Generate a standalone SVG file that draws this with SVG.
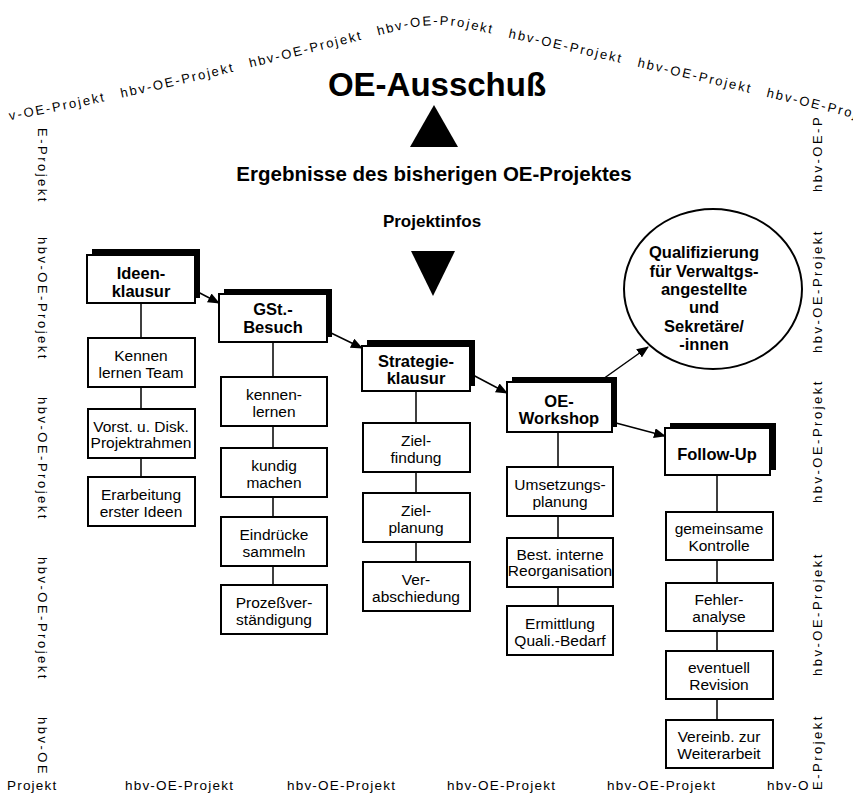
<svg xmlns="http://www.w3.org/2000/svg" width="853" height="794" viewBox="0 0 853 794">
<style>
text{font-family:"Liberation Sans",Arial,sans-serif;fill:#000}
.deco{font-size:13px;letter-spacing:2px;word-spacing:2px}
.side{font-size:13px;letter-spacing:2.5px}
.bot{font-size:13.5px;letter-spacing:1.2px}
.hb{font-size:16.5px;font-weight:bold;text-anchor:middle}
.t{font-size:15.5px;text-anchor:middle}
.box{fill:#fff;stroke:#000;stroke-width:2}
.sh{fill:#000}
.ln{stroke:#000;stroke-width:1.5;fill:none}
.ar{stroke:#000;stroke-width:1.5;fill:none;marker-end:url(#ah)}
</style>
<defs>
<marker id="ah" markerUnits="userSpaceOnUse" markerWidth="12" markerHeight="10" refX="11" refY="5" orient="auto">
<path d="M0,0 L12,5 L0,10 z" fill="#000"/>
</marker>
<path id="roof" d="M0,122 C150,95 300,55 400,30 Q437,20 475,30 C600,58 750,92 870,122"/>
</defs>
<rect width="853" height="794" fill="#fff"/>

<g id="border">
<text class="deco"><textPath href="#roof" startOffset="10">v-OE-Projekt&#160;&#160;hbv-OE-Projekt&#160;&#160;hbv-OE-Projekt&#160;&#160;hbv-OE-Projekt&#160;&#160;hbv-OE-Projekt&#160;&#160;hbv-OE-Projekt&#160;&#160;hbv-OE-Projekt&#160;&#160;hbv-OE-Projekt</textPath></text>
<g transform="translate(38,0) rotate(90)">
<text class="side" x="128" y="0">E-Projekt</text>
<text class="side" x="237" y="0">hbv-OE-Projekt</text>
<text class="side" x="397" y="0">hbv-OE-Projekt</text>
<text class="side" x="557" y="0">hbv-OE-Projekt</text>
<text class="side" x="717" y="0">hbv-OE</text>
</g>
<g transform="translate(822,0) rotate(-90)">
<text class="side" x="-192" y="0">hbv-OE-P</text>
<text class="side" x="-353" y="0">hbv-OE-Projekt</text>
<text class="side" x="-503" y="0">hbv-OE-Projekt</text>
<text class="side" x="-676" y="0">hbv-OE-Projekt</text>
<text class="side" x="-790" y="0">E-Projekt</text>
</g>
<text class="bot" x="7" y="790">Projekt</text>
<text class="bot" x="125" y="790">hbv-OE-Projekt</text>
<text class="bot" x="287" y="790">hbv-OE-Projekt</text>
<text class="bot" x="447" y="790">hbv-OE-Projekt</text>
<text class="bot" x="607" y="790">hbv-OE-Projekt</text>
<text class="bot" x="767" y="790">hbv-O</text>
</g>

<g id="head">
<text x="437" y="96" font-size="33" font-weight="bold" text-anchor="middle">OE-Ausschuß</text>
<polygon points="434,105 410,147 458,147" fill="#000"/>
<text x="434" y="181" font-size="20.5" font-weight="bold" text-anchor="middle">Ergebnisse des bisherigen OE-Projektes</text>
<text x="432" y="227" font-size="17" font-weight="bold" text-anchor="middle">Projektinfos</text>
<polygon points="411,251 455,251 433,296" fill="#000"/>
</g>

<g id="connectors">
<line class="ar" x1="196" y1="291" x2="219" y2="303"/>
<line class="ar" x1="329" y1="332" x2="362" y2="348"/>
<line class="ar" x1="471" y1="374" x2="507" y2="393"/>
<line class="ar" x1="603" y1="379" x2="648" y2="347"/>
<line class="ar" x1="616" y1="423" x2="665" y2="436"/>
<path class="ln" d="M141,303V338M141,387V409M141,458V477"/>
<path class="ln" d="M273,342V377M273,426V448M273,497V517M273,566V585"/>
<path class="ln" d="M416,391V423M416,472V493M416,542V562"/>
<path class="ln" d="M558,432V467M558,516V538M558,587V606"/>
<path class="ln" d="M717,475V512M717,560V583M717,631V651M717,699V720"/>
</g>

<g id="ideen">
<rect class="sh" x="92" y="249" width="108" height="49"/>
<rect class="box" x="87" y="255" width="108" height="48"/>
<text class="hb" x="141" y="279">Ideen-</text>
<text class="hb" x="141" y="297">klausur</text>
</g>
<g id="ideen1"><rect class="box" x="88" y="338" width="107" height="49"/><text class="t" x="141" y="361">Kennen</text><text class="t" x="141" y="378">lernen Team</text></g>
<g id="ideen2"><rect class="box" x="88" y="409" width="107" height="49"/><text class="t" x="141" y="432">Vorst. u. Disk.</text><text class="t" x="141" y="448">Projektrahmen</text></g>
<g id="ideen3"><rect class="box" x="88" y="477" width="107" height="49"/><text class="t" x="141" y="500">Erarbeitung</text><text class="t" x="141" y="517">erster Ideen</text></g>

<g id="gst">
<rect class="sh" x="224" y="289" width="108" height="48"/>
<rect class="box" x="219" y="294" width="108" height="48"/>
<text class="hb" x="273" y="315">GSt.-</text>
<text class="hb" x="273" y="333">Besuch</text>
</g>
<g id="gst1"><rect class="box" x="221" y="377" width="106" height="49"/><text class="t" x="274" y="400">kennen-</text><text class="t" x="274" y="417">lernen</text></g>
<g id="gst2"><rect class="box" x="221" y="448" width="106" height="49"/><text class="t" x="274" y="471">kundig</text><text class="t" x="274" y="488">machen</text></g>
<g id="gst3"><rect class="box" x="221" y="517" width="106" height="49"/><text class="t" x="274" y="540">Eindrücke</text><text class="t" x="274" y="557">sammeln</text></g>
<g id="gst4"><rect class="box" x="221" y="585" width="106" height="49"/><text class="t" x="274" y="608">Prozeßver-</text><text class="t" x="274" y="625">ständigung</text></g>

<g id="strategie">
<rect class="sh" x="367" y="340" width="108" height="46"/>
<rect class="box" x="362" y="346" width="108" height="45"/>
<text class="hb" x="416" y="367">Strategie-</text>
<text class="hb" x="416" y="384">klausur</text>
</g>
<g id="str1"><rect class="box" x="363" y="423" width="107" height="49"/><text class="t" x="416" y="446">Ziel-</text><text class="t" x="416" y="463">findung</text></g>
<g id="str2"><rect class="box" x="363" y="493" width="107" height="49"/><text class="t" x="416" y="516">Ziel-</text><text class="t" x="416" y="533">planung</text></g>
<g id="str3"><rect class="box" x="363" y="562" width="107" height="49"/><text class="t" x="416" y="585">Ver-</text><text class="t" x="416" y="602">abschiedung</text></g>

<g id="workshop">
<rect class="sh" x="512" y="377" width="105" height="50"/>
<rect class="box" x="507" y="382" width="105" height="50"/>
<text class="hb" x="559" y="407">OE-</text>
<text class="hb" x="559" y="424">Workshop</text>
</g>
<g id="ws1"><rect class="box" x="507" y="467" width="106" height="49"/><text class="t" x="560" y="490">Umsetzungs-</text><text class="t" x="560" y="507">planung</text></g>
<g id="ws2"><rect class="box" x="507" y="538" width="106" height="49"/><text class="t" x="560" y="560" font-size="13">Best. interne</text><text class="t" x="560" y="576" font-size="13">Reorganisation</text></g>
<g id="ws3"><rect class="box" x="507" y="606" width="106" height="49"/><text class="t" x="560" y="629">Ermittlung</text><text class="t" x="560" y="646">Quali.-Bedarf</text></g>

<g id="quali">
<ellipse cx="713" cy="289" rx="89" ry="80" fill="#fff" stroke="#000" stroke-width="2"/>
<text class="hb" x="704" y="258">Qualifizierung</text>
<text class="hb" x="704" y="277">für Verwaltgs-</text>
<text class="hb" x="704" y="295">angestellte</text>
<text class="hb" x="704" y="313">und</text>
<text class="hb" x="704" y="332">Sekretäre/</text>
<text class="hb" x="704" y="350">-innen</text>
</g>

<g id="followup">
<rect class="sh" x="670" y="423" width="106" height="47"/>
<rect class="box" x="665" y="428" width="105" height="47"/>
<text class="hb" x="717" y="460">Follow-Up</text>
</g>
<g id="fu1"><rect class="box" x="666" y="512" width="107" height="48"/><text class="t" x="719" y="534">gemeinsame</text><text class="t" x="719" y="551">Kontrolle</text></g>
<g id="fu2"><rect class="box" x="666" y="583" width="107" height="48"/><text class="t" x="719" y="605">Fehler-</text><text class="t" x="719" y="622">analyse</text></g>
<g id="fu3"><rect class="box" x="666" y="651" width="107" height="48"/><text class="t" x="719" y="673">eventuell</text><text class="t" x="719" y="690">Revision</text></g>
<g id="fu4"><rect class="box" x="666" y="720" width="107" height="48"/><text class="t" x="719" y="742">Vereinb. zur</text><text class="t" x="719" y="759">Weiterarbeit</text></g>
</svg>
